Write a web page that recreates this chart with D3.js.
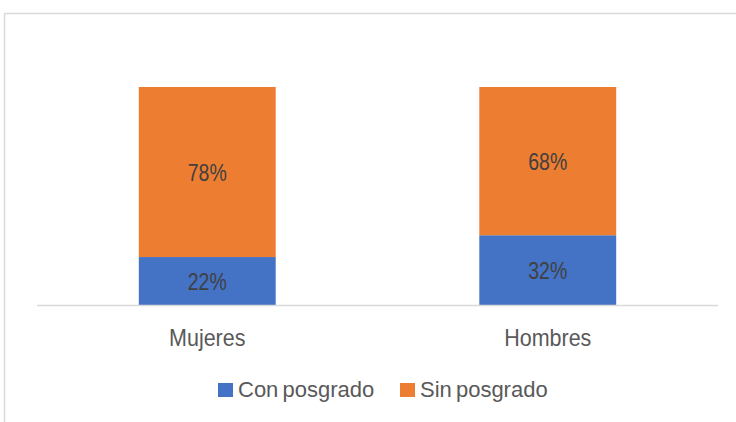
<!DOCTYPE html>
<html><head><meta charset="utf-8">
<script src="https://cdn.jsdelivr.net/npm/d3@7"></script>
<style>body{margin:0;background:#fff}svg{display:block}</style>
</head><body>
<svg id="c" width="736" height="422"></svg>
<script>
const categories = ["Mujeres", "Hombres"];
const seriesNames = ["Con posgrado", "Sin posgrado"];
const conPosgrado = [0.22, 0.32];
const sinPosgrado = [0.78, 0.68];
const colors = ["#4472c4", "#ed7d31"];

const svg = d3.select("#c");
const font = "'Liberation Sans', Arial, sans-serif";

svg.append("rect").attr("x", 4.5).attr("y", 13.5).attr("width", 740).attr("height", 420)
  .attr("fill", "#fff").attr("stroke", "#d9d9d9").attr("stroke-width", 1.5);

const x = d3.scaleBand().domain(categories).range([37, 718]).paddingInner(0.598).paddingOuter(0.299);
const y = d3.scaleLinear().domain([0, 1]).range([305, 87]);

const rows = categories.map((c, i) => ({cat: c, "Con posgrado": conPosgrado[i], "Sin posgrado": sinPosgrado[i]}));
const stack = d3.stack().keys(seriesNames)(rows);

stack.forEach((s, si) => {
  const g = svg.append("g");
  g.selectAll("rect").data(s).join("rect")
    .attr("x", d => x(d.data.cat)).attr("width", x.bandwidth())
    .attr("y", d => y(d[1])).attr("height", d => y(d[0]) - y(d[1]))
    .attr("fill", colors[si]);
  g.selectAll("text").data(s).join("text")
    .attr("transform", d => `translate(${x(d.data.cat) + x.bandwidth() / 2},${(y(d[0]) + y(d[1])) / 2 + 8.5}) scale(1,1.2)`)
    .attr("text-anchor", "middle")
    .attr("font-family", font).attr("font-size", 19.5).attr("fill", "#404040")
    .text(d => Math.round((d[1] - d[0]) * 100) + "%");
});

const axis = svg.append("g").attr("transform", "translate(0,305.5)")
  .call(d3.axisBottom(x).tickSize(0).tickPadding(0));
axis.select(".domain").attr("d", "M37,0H718").attr("stroke", "#d9d9d9").attr("stroke-width", 1.5);
axis.selectAll("text").attr("font-family", font).attr("font-size", 21.5).attr("fill", "#595959")
  .attr("dy", null).attr("y", 0).attr("transform", "translate(0,40.5) scale(1,1.08)");

const legend = svg.append("g");
const lx = [218, 400];
seriesNames.forEach((n, i) => {
  legend.append("rect").attr("x", lx[i]).attr("y", 383).attr("width", 15).attr("height", 14).attr("fill", colors[i]);
  legend.append("text").attr("x", lx[i] + 20).attr("y", 397)
    .attr("font-family", font).attr("font-size", 22).attr("word-spacing", -2)
    .attr("fill", "#595959").text(n);
});
</script>
</body></html>
